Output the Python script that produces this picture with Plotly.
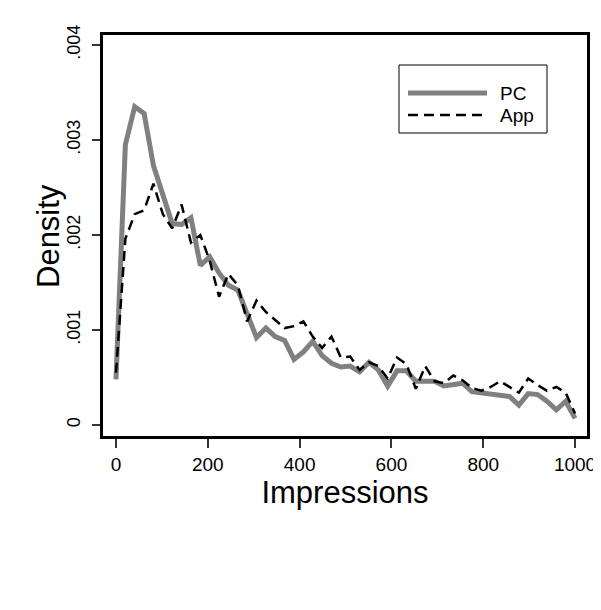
import plotly.graph_objects as go

# ---- data ----
impressions = [0.0, 20.4, 40.8, 61.2, 81.6, 102.0, 122.4, 142.9, 163.3, 183.7,
               204.1, 224.5, 244.9, 265.3, 285.7, 306.1, 326.5, 346.9, 367.3, 387.8,
               408.2, 428.6, 449.0, 469.4, 489.8, 510.2, 530.6, 551.0, 571.4, 591.8,
               612.2, 632.7, 653.1, 673.5, 693.9, 714.3, 734.7, 755.1, 775.5, 795.9,
               816.3, 836.7, 857.1, 877.6, 898.0, 918.4, 938.8, 959.2, 979.6, 1000.0]

pc_density = [0.00048, 0.00295, 0.00335, 0.00328, 0.00273, 0.00242, 0.00212, 0.00211, 0.00218, 0.00168,
              0.00177, 0.00160, 0.00147, 0.00142, 0.00118, 0.00092, 0.00102, 0.00093, 0.00089, 0.00069,
              0.00077, 0.00088, 0.00073, 0.00065, 0.00061, 0.00062, 0.00056, 0.00066, 0.00058, 0.00041,
              0.00057, 0.00057, 0.00046, 0.00046, 0.00046, 0.00041, 0.00043, 0.00044, 0.00035, 0.00034,
              0.00033, 0.00031, 0.00030, 0.00021, 0.00033, 0.00032, 0.00025, 0.00016, 0.00025, 0.00007]

app_density = [0.00055, 0.00196, 0.00222, 0.00226, 0.00254, 0.00222, 0.00207, 0.00232, 0.00192, 0.00200,
               0.00173, 0.00135, 0.00159, 0.00147, 0.00109, 0.00131, 0.00119, 0.00110, 0.00102, 0.00104,
               0.00109, 0.00093, 0.00081, 0.00093, 0.00071, 0.00072, 0.00058, 0.00066, 0.00062, 0.00049,
               0.00071, 0.00064, 0.00038, 0.00062, 0.00046, 0.00044, 0.00052, 0.00047, 0.00039, 0.00036,
               0.00040, 0.00046, 0.00040, 0.00034, 0.00049, 0.00042, 0.00036, 0.00040, 0.00034, 0.00012]

x_ticks = [0, 200, 400, 600, 800, 1000]
x_tick_labels = ["0", "200", "400", "600", "800", "1000"]
y_ticks = [0, 0.001, 0.002, 0.003, 0.004]
y_tick_labels = ["0", ".001", ".002", ".003", ".004"]
series_names = ["PC", "App"]
x_title = "Impressions"
y_title = "Density"

FONT = "Arial, Liberation Sans, sans-serif"
# the page body has an 8px default margin; work in window pixels and offset
OFF = 8
W, H = 601 - OFF, 610 - OFF
PL, PR, PT, PB = 103, 587, 35, 436  # plot area in window pixels
L, T = PL - OFF, PT - OFF
R, B = W - (PR - OFF), H - (PB - OFF)
pw, ph = PR - PL, PB - PT


def px(xp):
    return (xp - PL) / pw


def py(yp):
    return (PB - yp) / ph


fig = go.Figure()
fig.add_trace(go.Scatter(x=impressions, y=pc_density, mode="lines", name=series_names[0],
                         line=dict(color="#808080", width=5), showlegend=False))
fig.add_trace(go.Scatter(x=impressions, y=app_density, mode="lines", name=series_names[1],
                         line=dict(color="black", width=2.5, dash="10px,6px"), showlegend=False))

# legend drawn manually (box + samples + labels)
shapes = [
    dict(type="rect", xref="paper", yref="paper", x0=px(399), x1=px(547), y0=py(133), y1=py(65),
         line=dict(color="black", width=1), fillcolor="white", layer="above"),
    dict(type="line", xref="paper", yref="paper", x0=px(408), x1=px(487), y0=py(93), y1=py(93),
         line=dict(color="#808080", width=5), layer="above"),
    dict(type="line", xref="paper", yref="paper", x0=px(408), x1=px(487), y0=py(115), y1=py(115),
         line=dict(color="black", width=2.5, dash="10px,6px"), layer="above"),
]
annotations = [
    dict(xref="paper", yref="paper", x=px(498), y=py(93), text=series_names[0], showarrow=False,
         xanchor="left", yanchor="middle", font=dict(family=FONT, size=19, color="black")),
    dict(xref="paper", yref="paper", x=px(498), y=py(115), text=series_names[1], showarrow=False,
         xanchor="left", yanchor="middle", font=dict(family=FONT, size=19, color="black")),
    dict(xref="paper", yref="paper", x=px(48), y=py(236), text=y_title, showarrow=False,
         textangle=-90, xanchor="center", yanchor="middle",
         font=dict(family=FONT, size=31, color="black")),
]

fig.update_layout(
    width=W, height=H,
    margin=dict(l=L, r=R, t=T, b=B, pad=0),
    paper_bgcolor="white", plot_bgcolor="white",
    font=dict(family=FONT, color="black"),
    shapes=shapes, annotations=annotations,
    xaxis=dict(range=[-28.3, 1026], tickvals=x_ticks, ticktext=x_tick_labels, automargin=False,
               showgrid=False, zeroline=False, showline=True, mirror=True,
               linecolor="black", linewidth=3, ticks="outside", ticklen=9, tickwidth=1.5,
               tickcolor="#333", tickfont=dict(size=19, family=FONT), ticklabeloverflow="allow",
               title=dict(text=x_title, font=dict(size=31, family=FONT), standoff=2)),
    yaxis=dict(range=[-0.000116, 0.004105], tickvals=y_ticks, ticktext=y_tick_labels, automargin=False,
               showgrid=False, zeroline=False, showline=True, mirror=True,
               linecolor="black", linewidth=3, ticks="outside", ticklen=8, tickwidth=1.5,
               tickcolor="#333", tickangle=-90, tickfont=dict(size=18, family=FONT),
               ticklabelstandoff=5, ticklabeloverflow="allow"),
)

fig.write_html("out.html")
